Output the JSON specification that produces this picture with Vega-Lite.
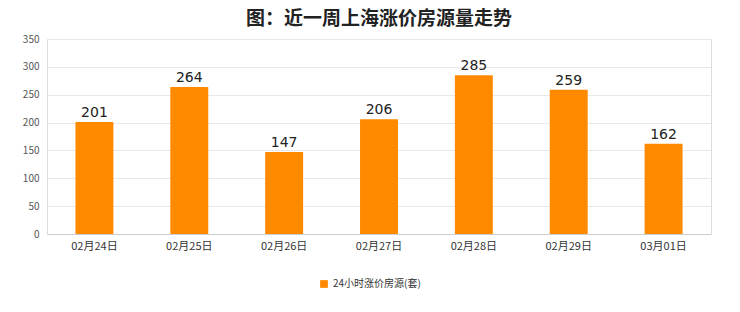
{
  "$schema": "https://vega.github.io/schema/vega-lite/v6.json",
  "width": 664,
  "height": 195,
  "autosize": {"type": "none"},
  "padding": {"left": 47, "top": 39, "right": 29, "bottom": 78},
  "background": "#ffffff",
  "title": {
    "text": "图：近一周上海涨价房源量走势",
    "font": "Noto Sans CJK SC",
    "fontSize": 19,
    "fontWeight": "bold",
    "color": "#222222",
    "anchor": "middle",
    "offset": 5
  },
  "config": {
    "view": {"stroke": "#dddddd"},
    "font": "Noto Sans CJK SC"
  },
  "data": {
    "values": [
      {"date": "02月24日", "value": 201, "series": "24小时涨价房源(套)"},
      {"date": "02月25日", "value": 264, "series": "24小时涨价房源(套)"},
      {"date": "02月26日", "value": 147, "series": "24小时涨价房源(套)"},
      {"date": "02月27日", "value": 206, "series": "24小时涨价房源(套)"},
      {"date": "02月28日", "value": 285, "series": "24小时涨价房源(套)"},
      {"date": "02月29日", "value": 259, "series": "24小时涨价房源(套)"},
      {"date": "03月01日", "value": 162, "series": "24小时涨价房源(套)"}
    ]
  },
  "encoding": {
    "x": {
      "field": "date",
      "type": "nominal",
      "sort": null,
      "scale": {"paddingInner": 0.6, "paddingOuter": 0.3},
      "axis": {
        "title": null,
        "labelAngle": 0,
        "labelFontSize": 11,
        "labelColor": "#333333",
        "labelPadding": 6,
        "domainColor": "#cccccc",
        "ticks": false
      }
    },
    "y": {
      "field": "value",
      "type": "quantitative",
      "scale": {"domain": [0, 350]},
      "axis": {
        "title": null,
        "values": [0, 50, 100, 150, 200, 250, 300, 350],
        "labelFontSize": 10,
        "labelColor": "#555555",
        "labelPadding": 8,
        "gridColor": "#e8e8e8",
        "domain": false,
        "ticks": false
      }
    }
  },
  "layer": [
    {
      "mark": {"type": "bar", "color": "#ff8a00"},
      "encoding": {
        "color": {
          "field": "series",
          "type": "nominal",
          "scale": {"range": ["#ff8a00"]},
          "legend": {
            "title": null,
            "orient": "none",
            "legendX": 272,
            "legendY": 240,
            "symbolType": "square",
            "symbolSize": 60,
            "labelFontSize": 10,
            "labelColor": "#333333"
          }
        }
      }
    },
    {
      "mark": {"type": "text", "dy": -9, "fontSize": 14, "color": "#222222", "font": "DejaVu Sans"},
      "encoding": {"text": {"field": "value", "type": "quantitative"}}
    }
  ]
}
